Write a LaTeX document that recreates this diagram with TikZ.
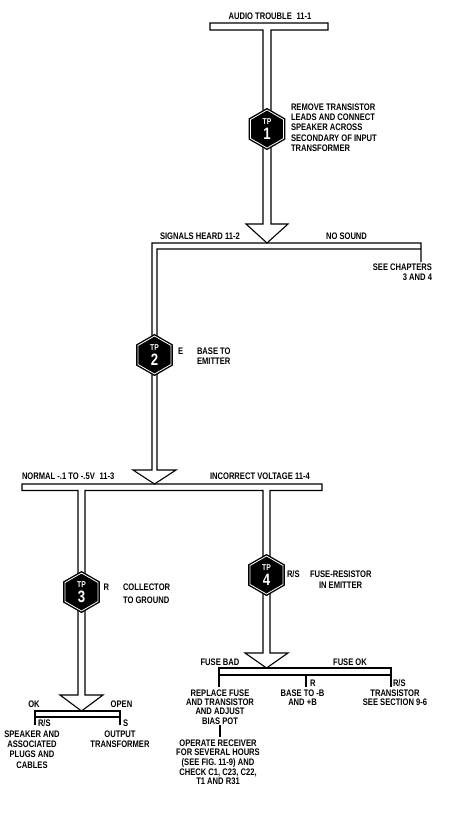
\documentclass[tikz,border=0pt]{standalone}
\usepackage{fontspec}
\setmainfont{Liberation Sans}[FakeStretch=0.8]
\usetikzlibrary{shapes.geometric}
\begin{document}
\begin{tikzpicture}[x=1pt,y=-1pt,
  pipe/.style={draw=black,line width=1.1pt,line join=miter,miter limit=10},
  tick/.style={draw=black,line width=1.1pt},
  lbl/.style={inner sep=0pt,outer sep=0pt,font=\fontsize{9.5}{10.3}\selectfont\bfseries,text height=6.8pt,text depth=0pt},
  blk/.style={inner sep=0pt,outer sep=0pt,font=\fontsize{9.5}{10.3}\selectfont\bfseries},
  hexnode/.style={regular polygon,regular polygon sides=6,shape border rotate=90,minimum size=38pt,inner sep=0pt,fill=black,draw=black,line width=1.4pt,double=white,double distance=0.8pt},
  tpt/.style={inner sep=0pt,text=white,font=\fontsize{8.5}{8}\selectfont\bfseries,text height=6.2pt,text depth=0pt},
  tpn/.style={inner sep=0pt,text=white,font=\fontsize{16.5}{16}\selectfont\bfseries,text height=11.8pt,text depth=0pt}]
\useasboundingbox[fill=white] (0,0) rectangle (450,819);

% pipes
\draw[pipe] (263,224) -- (263,30) -- (210,30) -- (210,23) -- (328,23) -- (328,30) -- (271,30) -- (271,224) -- (288,224) -- (267,243) -- (246,224) -- cycle;
\draw[pipe] (421,262) -- (421,243) -- (152,243) -- (152,470) -- (133,470) -- (154.5,484) -- (176,470) -- (157,470) -- (157,249) -- (421,249);
\draw[pipe] (22,484) -- (322,484) -- (322,490.5) -- (270,490.5) -- (270,653) -- (288,653) -- (266.5,668) -- (245,653) -- (263,653) -- (263,490.5) -- (85,490.5) -- (85,695) -- (103,695) -- (81.5,711) -- (60,695) -- (78,695) -- (78,490.5) -- (22,490.5) -- cycle;
\draw[pipe] (35,711) rectangle (120,717);
\draw[tick] (35,717) -- (35,725);
\draw[tick] (120,717) -- (120,725);
\draw[pipe] (219,668) rectangle (391,675);
\draw[tick] (219,675) -- (219,687);
\draw[tick] (306,675) -- (306,687);
\draw[tick] (391,675) -- (391,687);
\draw[tick] (220,725) -- (220,737);

% test points
\node[hexnode] (tp1) at (267,129) {};
\node[tpt] (tp1t) at ([yshift=7.5pt]tp1.center) {TP};
\node[tpn] (tp1n) at ([yshift=-5pt]tp1.center) {1};
\node[hexnode] (tp2) at (154.5,355) {};
\node[tpt] (tp2t) at ([yshift=7.5pt]tp2.center) {TP};
\node[tpn] (tp2n) at ([yshift=-5pt]tp2.center) {2};
\node[hexnode] (tp3) at (81.5,592) {};
\node[tpt] (tp3t) at ([yshift=7.5pt]tp3.center) {TP};
\node[tpn] (tp3n) at ([yshift=-5pt]tp3.center) {3};
\node[hexnode] (tp4) at (266.5,575) {};
\node[tpt] (tp4t) at ([yshift=7.5pt]tp4.center) {TP};
\node[tpn] (tp4n) at ([yshift=-5pt]tp4.center) {4};

% labels
\node[lbl] (audio) at (270,16) {AUDIO TROUBLE\enspace 11-1};
\node[blk,anchor=north west,align=left] (tp1txt) at (291,103.5) {REMOVE TRANSISTOR\\LEADS AND CONNECT\\SPEAKER ACROSS\\SECONDARY OF INPUT\\TRANSFORMER};
\node[lbl,anchor=west] (signals) at (160,236) {SIGNALS HEARD 11-2};
\node[lbl] (nosound) at (346.5,236) {NO SOUND};
\node[blk,anchor=north east,align=right] (seech) at (432,263.5) {SEE CHAPTERS\\3 AND 4};
\node[lbl,anchor=west] (e2) at (178,351) {E};
\node[blk,anchor=north west,align=left] (base) at (197,347.5) {BASE TO\\EMITTER};
\node[lbl,anchor=west] (normal) at (22,476) {NORMAL -.1 TO -.5V\enspace 11-3};
\node[lbl,anchor=west] (incorrect) at (210,476) {INCORRECT VOLTAGE 11-4};
\node[lbl,anchor=west] (r3) at (103.5,587) {R};
\node[lbl,anchor=west] (coll) at (123,587) {COLLECTOR};
\node[lbl,anchor=west] (gnd) at (123,600) {TO GROUND};
\node[lbl,anchor=west] (rs4) at (287,574) {R/S};
\node[lbl,anchor=west] (fuser) at (310,574) {FUSE-RESISTOR};
\node[lbl,anchor=west] (inem) at (319,585) {IN EMITTER};
\node[lbl] (fusebad) at (220,662) {FUSE BAD};
\node[lbl] (fuseok) at (350,662) {FUSE OK};
\node[lbl,anchor=west] (rmid) at (310,683) {R};
\node[lbl,anchor=west] (rsr) at (393,683) {R/S};
\node[blk,anchor=north,align=center,font=\fontsize{9.5}{9.3}\selectfont\bfseries] (replace) at (220,689.5) {REPLACE FUSE\\AND TRANSISTOR\\AND ADJUST\\BIAS POT};
\node[blk,anchor=north,align=center,font=\fontsize{9.5}{9.6}\selectfont\bfseries] (basetob) at (302.5,689.5) {BASE TO -B\\AND +B};
\node[blk,anchor=north,align=center,font=\fontsize{9.5}{9.6}\selectfont\bfseries] (transsec) at (395,689.5) {TRANSISTOR\\SEE SECTION 9-6};
\node[blk,anchor=north,align=center,font=\fontsize{9.5}{9.7}\selectfont\bfseries] (operate) at (218,739.5) {OPERATE RECEIVER\\FOR SEVERAL HOURS\\(SEE FIG. 11-9) AND\\CHECK C1, C23, C22,\\T1 AND R31};
\node[lbl] (ok) at (34,704) {OK};
\node[lbl] (open) at (121.5,704) {OPEN};
\node[lbl,anchor=west] (rsok) at (38,723) {R/S};
\node[lbl,anchor=west] (sopen) at (123,723) {S};
\node[blk,anchor=north,align=center] (speaker) at (32,730.5) {SPEAKER AND\\ASSOCIATED\\PLUGS AND\\CABLES};
\node[blk,anchor=north,align=center] (output) at (120,730.5) {OUTPUT\\TRANSFORMER};
\end{tikzpicture}
\end{document}
